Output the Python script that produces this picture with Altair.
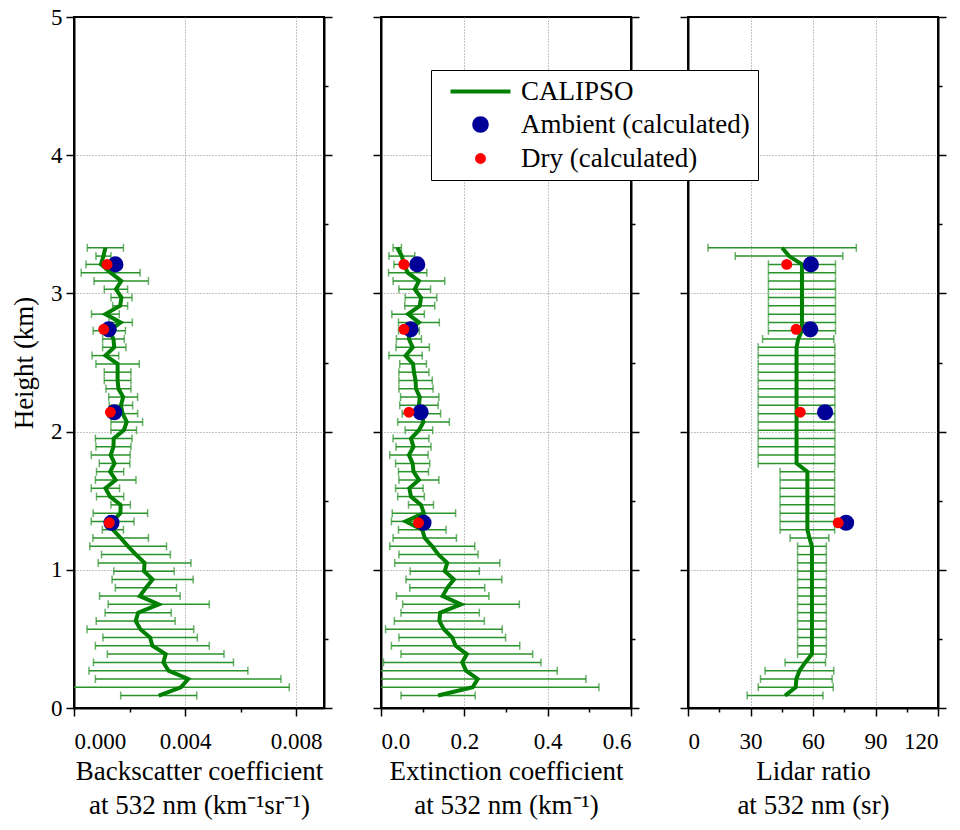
import altair as alt
import pandas as pd

FONT = "Liberation Serif, Times New Roman, Times, serif"
GREEN = "#008000"
BARC = "#2a922a"
BLUE = "#000099"
RED = "#ff0000"

# ---- data ----
heights = [0.09, 0.15, 0.21, 0.27, 0.33, 0.39, 0.45, 0.51, 0.57, 0.63, 0.69,
           0.75, 0.81, 0.87, 0.93, 0.99, 1.05, 1.11, 1.17, 1.23, 1.29, 1.35,
           1.41, 1.47, 1.53, 1.59, 1.65, 1.71, 1.77, 1.83, 1.89, 1.95, 2.01,
           2.07, 2.13, 2.19, 2.25, 2.31, 2.37, 2.43, 2.49, 2.55, 2.61, 2.67,
           2.73, 2.79, 2.85, 2.91, 2.97, 3.03, 3.09, 3.15, 3.21, 3.27, 3.33]

# backscatter in 1e-3 km^-1 sr^-1
bsc_center = [3.05, 3.85, 4.11, 3.40, 3.22, 3.30, 2.82, 2.74, 2.39, 2.22, 2.31,
              3.05, 2.37, 2.59, 2.83, 2.52, 2.54, 2.23, 1.95, 1.68, 1.40, 1.39,
              1.67, 1.68, 1.30, 1.13, 1.50, 1.30, 1.46, 1.32, 1.42, 1.43, 1.79,
              1.90, 1.75, 1.69, 1.77, 1.60, 1.57, 1.57, 1.57, 1.13, 1.45, 1.42,
              1.27, 1.68, 1.13, 1.66, 1.71, 1.51, 1.70, 1.32, 0.97, 1.06, 1.13]
bsc_err = [1.37, 3.90, 3.34, 2.86, 2.52, 2.10, 2.05, 1.70, 1.92, 1.42, 1.19,
           1.82, 1.45, 1.10, 1.46, 1.09, 1.67, 1.24, 1.38, 1.00, 0.38, 0.77,
           0.98, 0.35, 0.49, 0.51, 0.73, 0.49, 0.55, 0.70, 0.63, 0.66, 0.46,
           0.57, 0.54, 0.42, 0.52, 0.45, 0.48, 0.48, 0.78, 0.48, 0.42, 0.39,
           0.58, 0.42, 0.50, 0.27, 0.38, 0.42, 0.98, 1.06, 0.54, 0.27, 0.65]

ext_center = [0.137, 0.220, 0.232, 0.204, 0.195, 0.206, 0.179, 0.171, 0.151,
              0.140, 0.142, 0.192, 0.148, 0.159, 0.175, 0.153, 0.159, 0.138,
              0.123, 0.105, 0.099, 0.059, 0.103, 0.096, 0.072, 0.068, 0.091,
              0.078, 0.076, 0.067, 0.078, 0.072, 0.091, 0.102, 0.097, 0.091,
              0.093, 0.084, 0.083, 0.079, 0.077, 0.059, 0.076, 0.067, 0.067,
              0.091, 0.065, 0.093, 0.096, 0.081, 0.091, 0.064, 0.055, 0.050,
              0.039]
ext_err = [0.089, 0.303, 0.260, 0.219, 0.189, 0.158, 0.154, 0.128, 0.140,
           0.108, 0.094, 0.140, 0.111, 0.090, 0.115, 0.083, 0.126, 0.095,
           0.102, 0.076, 0.057, 0.034, 0.076, 0.030, 0.032, 0.033, 0.048,
           0.036, 0.041, 0.046, 0.042, 0.043, 0.033, 0.062, 0.046, 0.046,
           0.046, 0.041, 0.040, 0.036, 0.032, 0.040, 0.040, 0.030, 0.025,
           0.049, 0.039, 0.036, 0.038, 0.038, 0.062, 0.046, 0.024, 0.031,
           0.010]

lr_center = [46.6, 51.7, 52.0, 53.5, 56.3,
             59.5, 59.5, 59.5, 59.5, 59.5, 59.5, 59.5, 59.5, 59.5, 59.5, 59.5,
             59.5, 59.5, 59.5,
             58.3,
             57.3, 57.3, 57.3, 57.3, 57.3, 57.3, 57.3, 57.3,
             52.1, 52.1, 52.1, 52.1, 52.1, 52.1, 52.1, 52.1, 52.1, 52.1, 52.1,
             52.1, 52.1, 52.1, 52.1,
             52.9,
             54.7, 54.7, 54.7, 54.7, 54.7, 54.7, 54.7, 54.7, 54.7,
             48.5, 45.2]
lr_err = [18.2, 18.0, 17.2, 16.5, 9.7,
          6.9, 6.9, 6.9, 6.9, 6.9, 6.9, 6.9, 6.9, 6.9, 6.9, 6.9, 6.9, 6.9, 6.9,
          9.3,
          13.1, 13.1, 13.1, 13.1, 13.1, 13.1, 13.1, 13.1,
          18.4, 18.4, 18.4, 18.4, 18.4, 18.4, 18.4, 18.4, 18.4, 18.4, 18.4,
          18.4, 18.4, 18.4, 18.4,
          17.1,
          16.1, 16.1, 16.1, 16.1, 16.1, 16.1, 16.1, 16.1, 16.1,
          25.8, 35.6]

pt_heights = [1.34, 2.14, 2.74, 3.21]
bsc_amb = [1.35, 1.45, 1.25, 1.49]
bsc_dry = [1.27, 1.31, 1.07, 1.19]
ext_amb = [0.102, 0.095, 0.071, 0.087]
ext_dry = [0.090, 0.067, 0.055, 0.055]
lr_amb = [75.9, 65.8, 58.7, 59.0]
lr_dry = [72.1, 53.9, 51.9, 47.4]

legend_labels = ["CALIPSO", "Ambient (calculated)", "Dry (calculated)"]

PW = 250
PH = 691


def cond(test, yes, no):
    return {"condition": {"test": test, "value": yes}, "value": no}


def make_panel(center, err, amb, dry, scale_factor, xdomain, xvalues, major_test,
               fmt, title_lines, first=False, legend=False):
    df = pd.DataFrame({
        "h": heights,
        "c": [v * scale_factor for v in center],
        "lo": [(v - e) * scale_factor for v, e in zip(center, err)],
        "hi": [(v + e) * scale_factor for v, e in zip(center, err)],
    })
    pts = pd.DataFrame({
        "h": pt_heights,
        "amb": [v * scale_factor for v in amb],
        "dry": [v * scale_factor for v in dry],
    })
    xmax = xdomain[1]
    xscale = alt.Scale(domain=xdomain, nice=False, zero=False)
    yscale = alt.Scale(domain=[0, 5], nice=False, zero=False)
    xaxis = alt.Axis(
        values=xvalues, format=fmt, title=title_lines,
        labelExpr=f"({major_test}) ? datum.label : ''",
        tickSize=cond(major_test, 8, 4),
        grid=True,
        gridOpacity=cond(f"({major_test}) && datum.value > 0 && datum.value < {xmax * 0.999}", 1, 0),
        labelPadding=14, titlePadding=5, titleLineHeight=34,
    )
    ymajor = "round(datum.value*2) % 2 == 0"
    yvals = [0, 0.5, 1, 1.5, 2, 2.5, 3, 3.5, 4, 4.5, 5]
    yaxis = alt.Axis(
        values=yvals, format="d",
        labels=first, title="Height (km)" if first else None,
        labelExpr=f"({ymajor}) ? datum.label : ''",
        tickSize=cond(ymajor, 8, 4),
        grid=True,
        gridOpacity=cond(f"({ymajor}) && datum.value > 0 && datum.value < 5", 1, 0),
        labelPadding=4, titlePadding=12,
    )
    yaxis_r = alt.Axis(
        values=yvals, orient="right", labels=False, title=None, grid=False,
        tickSize=cond(ymajor, 8, 4),
    )

    ybase = alt.Y("h:Q", scale=yscale, axis=yaxis)

    bars = alt.Chart(df).mark_rule(color=BARC, strokeWidth=1.5, clip=True).encode(
        x=alt.X("lo:Q", scale=xscale, axis=xaxis), x2="hi:Q", y=ybase)
    cap_lo = alt.Chart(df).mark_tick(color=BARC, size=8, thickness=1.5,
                                     orient="vertical", clip=True).encode(
        x=alt.X("lo:Q", scale=xscale, axis=xaxis), y=ybase)
    cap_hi = alt.Chart(df).mark_tick(color=BARC, size=8, thickness=1.5,
                                     orient="vertical", clip=True).encode(
        x=alt.X("hi:Q", scale=xscale, axis=xaxis), y=ybase)
    line = alt.Chart(df).mark_line(color=GREEN, strokeWidth=4, clip=True).encode(
        x=alt.X("c:Q", scale=xscale, axis=xaxis), y=ybase, order="h:Q")
    pamb = alt.Chart(pts).mark_circle(color=BLUE, size=260, opacity=1).encode(
        x=alt.X("amb:Q", scale=xscale, axis=xaxis), y=ybase)
    pdry = alt.Chart(pts).mark_circle(color=RED, size=120, opacity=1).encode(
        x=alt.X("dry:Q", scale=xscale, axis=xaxis), y=ybase)

    layers = [bars, cap_lo, cap_hi, line, pamb, pdry]

    if legend:
        leg_df = pd.DataFrame({"cat": legend_labels, "lx": [-1.0] * 3, "ly": [-1.0] * 3})
        leg = alt.Legend(title=None, orient="none", legendX=357, legendY=53,
                         strokeColor="black", fillColor="white", padding=8,
                         labelFont=FONT, labelFontSize=27, labelColor="black",
                         labelLimit=500, symbolOpacity=1,
                         symbolStrokeWidth=4, rowPadding=5, labelOffset=27,
                         symbolOffset=28, cornerRadius=0)
        cats = alt.Scale(domain=legend_labels, range=[GREEN, BLUE, RED])
        legend_layer = alt.Chart(leg_df).mark_point(filled=True, clip=True, opacity=1).encode(
            x=alt.X("lx:Q", scale=xscale, axis=xaxis),
            y=alt.Y("ly:Q", scale=yscale, axis=yaxis),
            fill=alt.Fill("cat:N", scale=cats, legend=leg),
            stroke=alt.Stroke("cat:N", scale=cats, legend=leg),
            shape=alt.Shape("cat:N", scale=alt.Scale(domain=legend_labels, range=["M-3,0H3", "circle", "circle"]), legend=leg),
            size=alt.Size("cat:N", scale=alt.Scale(type="ordinal", domain=legend_labels, range=[400, 160, 48]), legend=leg),
        )
        layers.append(legend_layer)

    inner = alt.layer(*layers)
    right = alt.Chart(df).mark_point(opacity=0).encode(
        y=alt.Y("h:Q", scale=yscale, axis=yaxis_r))
    return alt.layer(inner, right).resolve_scale(y="independent").properties(
        width=PW, height=PH)


p1 = make_panel(bsc_center, bsc_err, bsc_amb, bsc_dry, 0.001, [0, 0.009],
                [0, 0.002, 0.004, 0.006, 0.008],
                "round(datum.value*1000) % 4 == 0", ".3f",
                ["Backscatter coefficient", "at 532 nm  (km\u207b\u00b9sr\u207b\u00b9)"],
                first=True)
p2 = make_panel(ext_center, ext_err, ext_amb, ext_dry, 1.0, [0, 0.6],
                [0, 0.1, 0.2, 0.3, 0.4, 0.5, 0.6],
                "round(datum.value*10) % 2 == 0", ".1f",
                ["Extinction coefficient", "at 532 nm  (km\u207b\u00b9)"],
                legend=True)
p3 = make_panel(lr_center, lr_err, lr_amb, lr_dry, 1.0, [0, 120],
                [0, 15, 30, 45, 60, 75, 90, 105, 120],
                "round(datum.value) % 30 == 0", "d",
                ["Lidar ratio", "at 532 nm  (sr)"])

chart = alt.hconcat(p1, p2, p3, spacing=57, bounds="flush").properties(
    padding={"left": 9, "top": 5, "right": 5, "bottom": 5},
    background="white",
).configure_view(stroke="black", strokeWidth=2).configure_axis(
    labelFont=FONT, titleFont=FONT, labelFontSize=23, titleFontSize=27,
    titleFontWeight="normal", labelColor="black", titleColor="black",
    tickColor="black", tickWidth=1.5, domainColor="black", domainWidth=2,
    gridColor="#888888", gridDash=[1, 2], gridWidth=1,
)

chart.save("out.html", embed_options={"renderer": "svg", "actions": False})
